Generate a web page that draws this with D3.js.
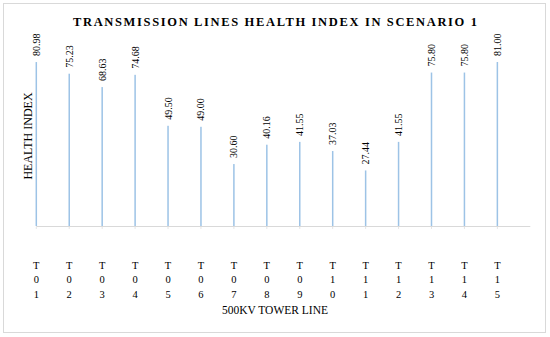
<!DOCTYPE html>
<html>
<head>
<meta charset="utf-8">
<script src="https://cdn.jsdelivr.net/npm/d3@7"></script>
<style>
  html, body { margin: 0; padding: 0; background: #fff; }
  svg { display: block; }
  text { font-family: "Liberation Serif", "DejaVu Serif", serif; fill: #000; }
</style>
</head>
<body>
<div id="chart"></div>
<script>
const categories = ["T01","T02","T03","T04","T05","T06","T07","T08","T09","T10","T11","T12","T13","T14","T15"];
const values = [80.98, 75.23, 68.63, 74.68, 49.50, 49.00, 30.60, 40.16, 41.55, 37.03, 27.44, 41.55, 75.80, 75.80, 81.00];
const valueLabels = ["80.98","75.23","68.63","74.68","49.50","49.00","30.60","40.16","41.55","37.03","27.44","41.55","75.80","75.80","81.00"];
const titleText = "TRANSMISSION LINES HEALTH INDEX IN SCENARIO 1";
const xTitle = "500KV TOWER LINE";
const yTitle = "HEALTH INDEX";

const W = 550, H = 337;
const svg = d3.select("#chart").append("svg").attr("width", W).attr("height", H);

svg.append("rect").attr("x", 3.5).attr("y", 3.5).attr("width", 542).attr("height", 329)
  .attr("fill", "#fff").attr("stroke", "#D9D9D9").attr("stroke-width", 1);

const x = d3.scaleBand().domain(categories).range([36.3, 530.3]).paddingInner(0).paddingOuter(0);
const y = d3.scaleLinear().domain([0, 90]).range([226, 43.8]);

svg.append("text")
  .attr("x", 73).attr("y", 25.5)
  .attr("textLength", 404).attr("lengthAdjust", "spacing")
  .attr("font-size", "12.5px").attr("font-weight", "bold")
  .text(titleText);

svg.append("g").selectAll("rect").data(values).join("rect")
  .attr("x", (d, i) => x(categories[i]) - 0.75)
  .attr("width", 1.5)
  .attr("y", d => y(d))
  .attr("height", d => y(0) - y(d))
  .attr("fill", "#9DC3E6");

svg.append("g").selectAll("text").data(values).join("text")
  .attr("transform", (d, i) => `translate(${x(categories[i]) + 3.5},${y(d) - 6}) rotate(-90)`)
  .attr("font-size", "10px")
  .attr("text-anchor", "start")
  .text((d, i) => valueLabels[i]);

svg.append("line").attr("x1", x.range()[0]).attr("x2", x.range()[1])
  .attr("y1", y(0) + 0.5).attr("y2", y(0) + 0.5)
  .attr("stroke", "#D9D9D9").attr("stroke-width", 1);

svg.append("g").selectAll("line").data(categories).join("line")
  .attr("x1", d => x(d)).attr("x2", d => x(d))
  .attr("y1", y(0) + 1).attr("y2", y(0) + 3)
  .attr("stroke", "#E6E6E6");

const lab = svg.append("g").selectAll("text").data(categories).join("text")
  .attr("font-size", "10.5px").attr("text-anchor", "middle");
lab.each(function(d) {
  const t = d3.select(this);
  d.split("").forEach((ch, k) => {
    t.append("tspan").attr("x", x(d)).attr("y", 268.5 + k * 14.5).text(ch);
  });
});

svg.append("text").attr("x", 275).attr("y", 314).attr("text-anchor", "middle")
  .attr("font-size", "11.5px").text(xTitle);
svg.append("text").attr("transform", "translate(32,136) rotate(-90)")
  .attr("text-anchor", "middle").attr("font-size", "12px").text(yTitle);
</script>
</body>
</html>
